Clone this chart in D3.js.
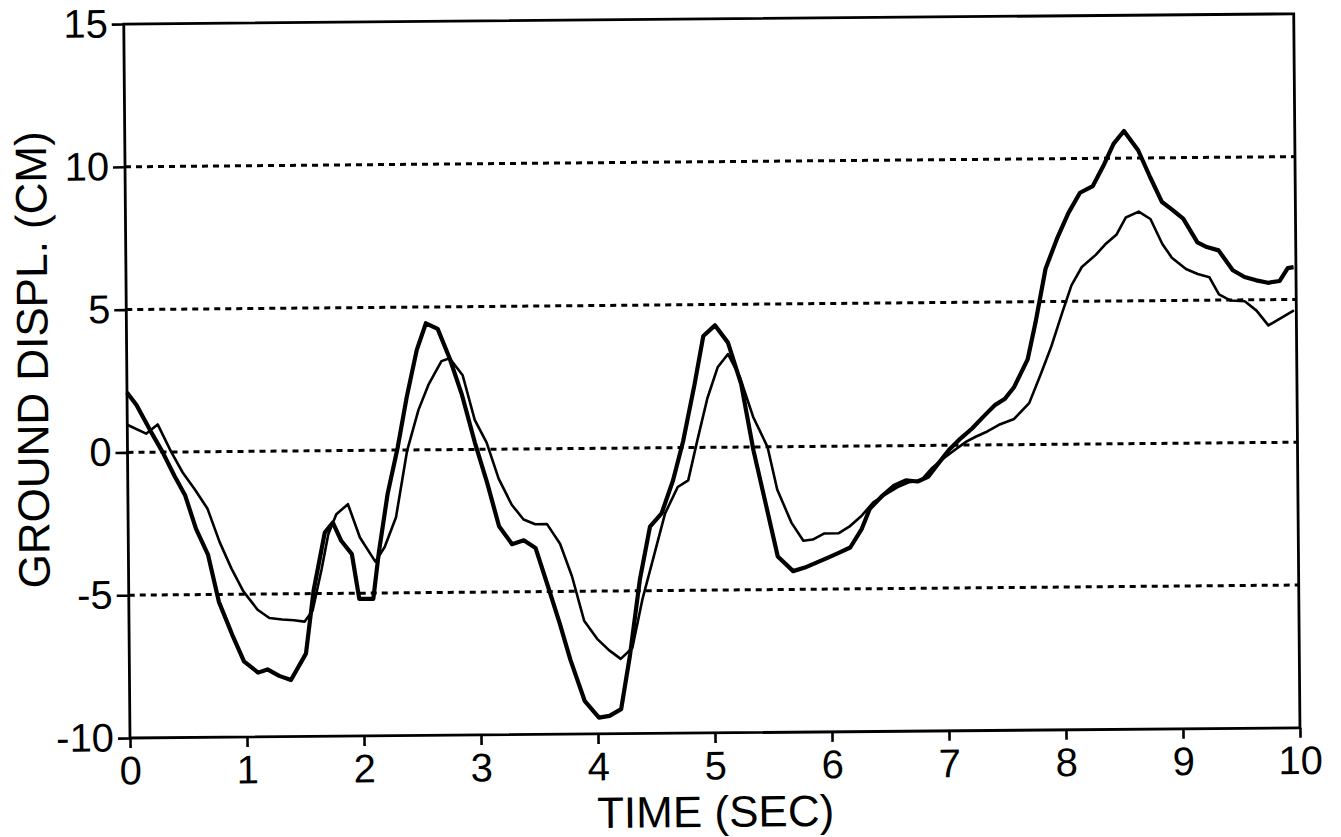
<!DOCTYPE html>
<html>
<head>
<meta charset="utf-8">
<script src="https://cdn.jsdelivr.net/npm/d3@7"></script>
<style>
  html, body { margin: 0; padding: 0; background: #fff; }
  svg { display: block; }
  text { font-family: "Liberation Sans", Arial, Helvetica, sans-serif; fill: #000; }
</style>
</head>
<body>
<svg id="chart" width="1341" height="837"></svg>
<script>
// Heavy trace: time (s) and ground displacement (cm)
const heavyTime = [0,0.08,0.2,0.3,0.4,0.49,0.58,0.68,0.77,0.88,
  0.98,1.1,1.18,1.28,1.38,1.51,1.58,1.68,1.75,1.82,
  1.91,1.97,2.09,2.14,2.22,2.31,2.39,2.48,2.56,2.66,
  2.76,2.86,2.97,3.07,3.17,3.28,3.38,3.48,3.58,3.68,
  3.77,3.89,4.01,4.1,4.2,4.28,4.37,4.46,4.56,4.66,
  4.75,4.85,4.93,5.03,5.14,5.25,5.35,5.45,5.55,5.68,
  5.78,5.88,5.98,6.08,6.17,6.27,6.34,6.45,6.55,6.65,
  6.75,6.84,6.94,7.02,7.12,7.22,7.32,7.42,7.5,7.58,
  7.7,7.77,7.86,7.96,8.06,8.16,8.27,8.37,8.45,8.54,
  8.66,8.76,8.86,8.94,9.04,9.16,9.24,9.34,9.46,9.56,
  9.66,9.76,9.86,9.93,9.98];
const heavyDisp = [2.1,1.66,0.73,0,-0.84,-1.53,-2.7,-3.6,-5.26,-6.4,
  -7.35,-7.75,-7.64,-7.87,-8.02,-7.1,-4.9,-2.87,-2.52,-3.16,
  -3.63,-5.2,-5.2,-3.6,-1.53,0.1,1.84,3.5,4.43,4.23,
  3.2,1.95,0.23,-1.15,-2.7,-3.33,-3.2,-3.47,-4.77,-6.1,
  -7.4,-8.85,-9.43,-9.37,-9.14,-7.24,-4.6,-2.76,-2.3,-1.15,
  0.23,2.18,3.9,4.27,3.66,2.2,-0.12,-1.98,-3.84,-4.36,
  -4.24,-4.07,-3.9,-3.72,-3.55,-2.9,-2.2,-1.74,-1.4,-1.22,
  -1.26,-1.1,-0.58,-0.17,0.23,0.58,1.0,1.4,1.6,2.0,
  2.98,4.27,6.15,7.2,8.1,8.8,9.03,9.8,10.5,10.95,
  10.27,9.33,8.45,8.2,7.86,7.03,6.86,6.74,6.04,5.8,
  5.68,5.59,5.65,6.1,6.13];

// Light trace: time (s) and ground displacement (cm)
const lightTime = [0,0.16,0.26,0.37,0.47,0.57,0.68,0.78,0.88,0.98,
  1.1,1.2,1.31,1.41,1.5,1.57,1.65,1.71,1.78,1.88,
  1.98,2.11,2.19,2.29,2.39,2.49,2.58,2.69,2.76,2.87,
  2.97,3.07,3.17,3.28,3.38,3.48,3.58,3.69,3.79,3.89,
  4.0,4.1,4.2,4.3,4.39,4.49,4.59,4.7,4.79,4.87,
  4.96,5.05,5.14,5.24,5.35,5.47,5.55,5.67,5.77,5.85,
  5.95,6.07,6.17,6.27,6.37,6.48,6.58,6.68,6.78,6.87,
  6.97,7.07,7.17,7.25,7.35,7.45,7.58,7.71,7.81,7.9,
  8.0,8.08,8.17,8.29,8.37,8.47,8.55,8.66,8.76,8.86,
  8.94,9.06,9.16,9.26,9.34,9.44,9.56,9.66,9.76,9.86,
  9.98];
const lightDisp = [0.97,0.65,0.97,0.03,-0.72,-1.3,-2.0,-3.16,-4.1,-4.9,
  -5.55,-5.84,-5.9,-5.93,-5.98,-5.6,-4.15,-2.93,-2.23,-1.88,
  -3.05,-3.9,-3.4,-2.35,-0.02,1.4,2.3,3.1,3.2,2.6,
  1.03,0.23,-1.03,-1.95,-2.47,-2.64,-2.64,-3.33,-4.48,-6.03,
  -6.67,-7.07,-7.38,-7.0,-5.3,-3.8,-2.3,-1.38,-1.15,0.23,
  1.72,2.8,3.26,2.44,1.05,0,-1.5,-2.67,-3.3,-3.26,
  -3.05,-3.05,-2.8,-2.44,-1.98,-1.69,-1.45,-1.28,-1.22,-0.81,
  -0.47,-0.17,0.12,0.29,0.47,0.7,0.9,1.45,2.45,3.39,
  4.62,5.56,6.2,6.62,6.98,7.33,7.92,8.12,7.86,6.98,
  6.5,6.1,5.92,5.8,5.2,4.98,4.95,4.62,4.1,4.33,
  4.62];

const xTickValues = [0,1,2,3,4,5,6,7,8,9,10];
const yTickValues = [-10,-5,0,5,10,15];
const gridValues = [-5,0,5,10];
const xTitle = "TIME (SEC)";
const yTitle = "GROUND DISPL. (CM)";

const svg = d3.select("#chart");
const box = { left: 130, right: 1300, top: 24, bottom: 738 };

const x = d3.scaleLinear().domain([0, 10]).range([box.left, box.right]);
const y = d3.scaleLinear().domain([-10, 15]).range([box.bottom, box.top]);

// the whole plate sits a little askew
const g = svg.append("g")
  .attr("transform", `rotate(-0.5, ${box.left}, ${box.bottom})`);

// dashed reference lines
g.append("g").selectAll("line").data(gridValues).join("line")
  .attr("x1", box.left).attr("x2", box.right)
  .attr("y1", d => y(d)).attr("y2", d => y(d))
  .attr("stroke", "#000").attr("stroke-width", 3)
  .attr("stroke-dasharray", "6 5");

// traces
const line = d3.line().x(d => x(d[0])).y(d => y(d[1]));
g.append("path")
  .datum(lightTime.map((t, i) => [t, lightDisp[i]]))
  .attr("d", line).attr("fill", "none")
  .attr("stroke", "#000").attr("stroke-width", 2.6)
  .attr("stroke-linejoin", "round");
g.append("path")
  .datum(heavyTime.map((t, i) => [t, heavyDisp[i]]))
  .attr("d", line).attr("fill", "none")
  .attr("stroke", "#000").attr("stroke-width", 4.2)
  .attr("stroke-linejoin", "round");

// frame
g.append("rect")
  .attr("x", box.left).attr("y", box.top)
  .attr("width", box.right - box.left).attr("height", box.bottom - box.top)
  .attr("fill", "none").attr("stroke", "#000").attr("stroke-width", 2.8);

// axes (plain hyphen for negative numbers)
const plain = d => String(d);
const xAxis = g.append("g")
  .attr("transform", `translate(0,${box.bottom})`)
  .call(d3.axisBottom(x).tickValues(xTickValues).tickFormat(plain)
    .tickSize(10).tickPadding(8));
const yAxis = g.append("g")
  .attr("transform", `translate(${box.left},0)`)
  .call(d3.axisLeft(y).tickValues(yTickValues).tickFormat(plain)
    .tickSize(12).tickPadding(4));

[xAxis, yAxis].forEach(a => {
  a.select(".domain").remove();
  a.selectAll(".tick line").attr("stroke", "#000").attr("stroke-width", 2.6);
  a.selectAll(".tick text").attr("fill", "#000")
    .style("font-family", '"Liberation Sans", Arial, sans-serif')
    .style("font-size", "40px");
});

// axis titles
g.append("text")
  .attr("x", (box.left + box.right) / 2).attr("y", 832)
  .attr("text-anchor", "middle").style("font-size", "44px")
  .text(xTitle);
g.append("text")
  .attr("transform", "translate(51, 359) rotate(-90)")
  .attr("text-anchor", "middle").style("font-size", "44px")
  .text(yTitle);
</script>
</body>
</html>
